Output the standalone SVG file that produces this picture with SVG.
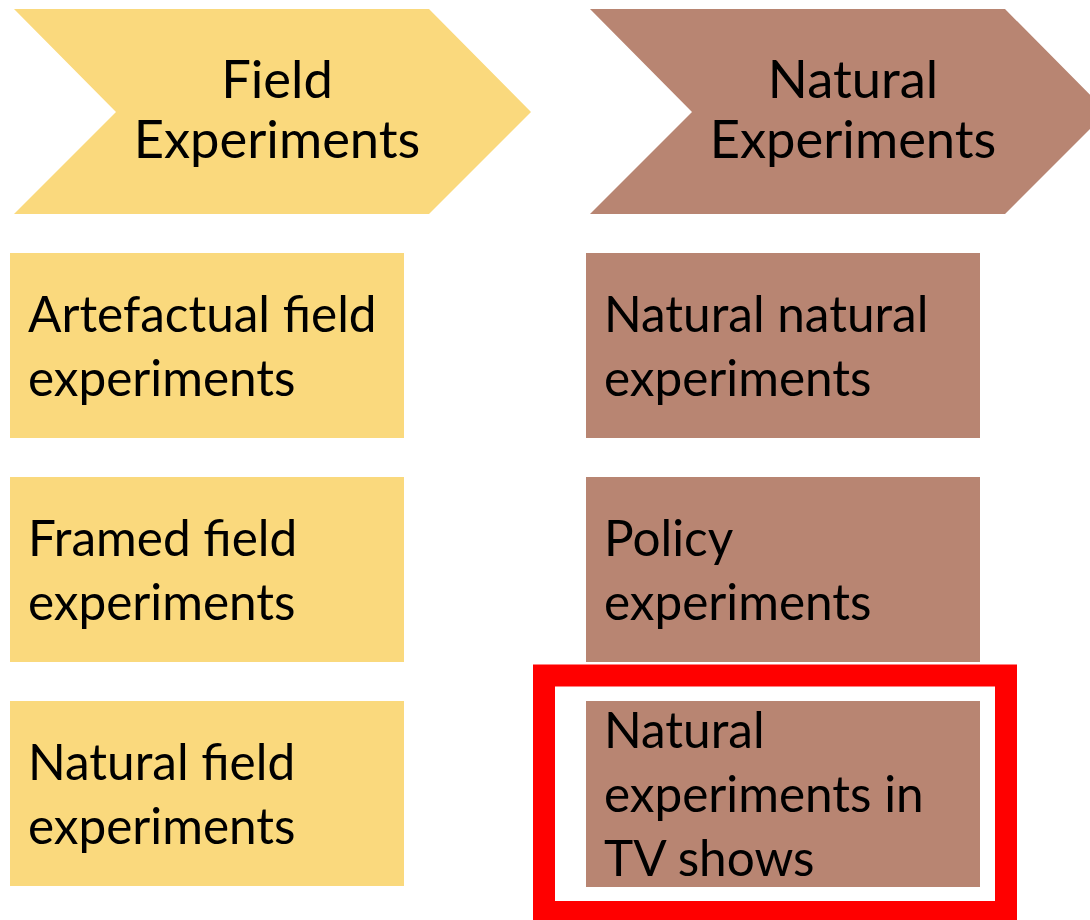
<svg xmlns="http://www.w3.org/2000/svg" width="1090" height="920" viewBox="0 0 1090 920">
  <style>
    .field { fill: #FAD97D; }
    .natural { fill: #B88572; }
    text { font-family: Lato, "Open Sans", "Liberation Sans", sans-serif; font-size: 49.5px; fill: #000000; }
    .head { text-anchor: middle; font-size: 52.5px; }
    .highlight { fill: none; stroke: #FF0000; stroke-width: 22; }
  </style>
  <rect width="1090" height="920" fill="#FFFFFF"/>

  <!-- column headers (chevrons) -->
  <g id="field-header">
    <polygon class="field" points="14,9 429,9 531,112 429,214 14,214 116,112"/>
    <text class="head" x="277" y="98">Field</text>
    <text class="head" x="277" y="158">Experiments</text>
  </g>
  <g id="natural-header">
    <polygon class="natural" points="590,9 1005,9 1107,112 1005,214 590,214 692,112"/>
    <text class="head" x="853" y="98">Natural</text>
    <text class="head" x="853" y="158">Experiments</text>
  </g>

  <!-- field experiment types -->
  <g id="artefactual">
    <rect class="field" x="10" y="253" width="394" height="185"/>
    <text x="28" y="332">Artefactual field</text>
    <text x="28" y="396">experiments</text>
  </g>
  <g id="framed">
    <rect class="field" x="10" y="477" width="394" height="185"/>
    <text x="28" y="556">Framed field</text>
    <text x="28" y="620">experiments</text>
  </g>
  <g id="natural-field">
    <rect class="field" x="10" y="701" width="394" height="185"/>
    <text x="28" y="780">Natural field</text>
    <text x="28" y="844">experiments</text>
  </g>

  <!-- natural experiment types -->
  <g id="natural-natural">
    <rect class="natural" x="586" y="253" width="394" height="185"/>
    <text x="604" y="332">Natural natural</text>
    <text x="604" y="396">experiments</text>
  </g>
  <g id="policy">
    <rect class="natural" x="586" y="477" width="394" height="185"/>
    <text x="604" y="556">Policy</text>
    <text x="604" y="620">experiments</text>
  </g>
  <g id="tv-shows">
    <rect class="natural" x="586" y="701" width="394" height="186"/>
    <text x="604" y="748">Natural</text>
    <text x="604" y="812">experiments in</text>
    <text x="604" y="876">TV shows</text>
  </g>

  <!-- emphasis frame -->
  <g id="connectors">
    <rect class="highlight" x="544" y="675.5" width="462" height="236.5"/>
  </g>
</svg>
